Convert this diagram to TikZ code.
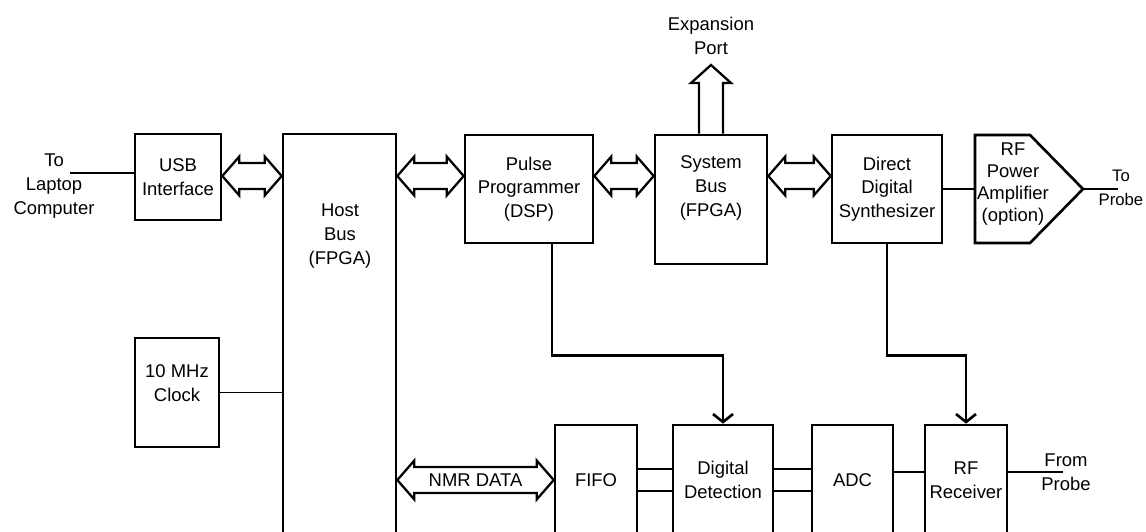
\documentclass[tikz,border=0pt]{standalone}
\usepackage{fontspec}
\setmainfont{Liberation Sans}
\usepackage{tikz}
\usetikzlibrary{arrows.meta, positioning, calc}

\tikzset{
  blk/.style={draw, line width=1.5pt, align=center, inner sep=0pt},
  lbl/.style={align=center, inner sep=0pt},
  %% hollow two-headed bus arrow, drawn from tip to tip
  bus/.style={line width=1.3pt, line join=miter, to path={
      let \p1=(\tikztostart), \p2=(\tikztotarget) in
      (\x1,\y1) -- (\x1+0.34cm,\y1+0.39cm) -- (\x1+0.34cm,\y1+0.26cm)
      -- (\x2-0.34cm,\y1+0.26cm) -- (\x2-0.34cm,\y1+0.39cm) -- (\x2,\y1)
      -- (\x2-0.34cm,\y1-0.39cm) -- (\x2-0.34cm,\y1-0.26cm)
      -- (\x1+0.34cm,\y1-0.26cm) -- (\x1+0.34cm,\y1-0.39cm) -- cycle}},
  %% hollow one-headed arrow going up
  portarrow/.style={line width=1.3pt, line join=miter, to path={
      let \p1=(\tikztostart), \p2=(\tikztotarget) in
      (\x1-0.24cm,\y1) -- (\x1-0.24cm,\y2-0.36cm) -- (\x1-0.40cm,\y2-0.36cm)
      -- (\x1,\y2) -- (\x1+0.40cm,\y2-0.36cm) -- (\x1+0.24cm,\y2-0.36cm)
      -- (\x1+0.24cm,\y1)}},
  wire/.style={line width=1.1pt},
  link/.style={line width=1.5pt},
  feed/.style={line width=1.5pt, -{Straight Barb[length=1.6mm,width=4mm]}},
}

\begin{document}
\begin{tikzpicture}[x=0.02cm, y=-0.02cm, font=\fontsize{10.5}{13.5}\selectfont]
  \useasboundingbox (0,0) rectangle (1146,531);
  \clip (0,0) rectangle (1146,531);

  %% Upper row
  \node[blk, minimum width=1.72cm, minimum height=1.72cm] (usb) at (178,177) {USB\\Interface};
  \node[blk, minimum width=2.26cm, minimum height=8.52cm] (host) at (339.5,347) {};
  \node[lbl] (hostlbl) at (340,236) {Host\\Bus\\(FPGA)};
  \node[blk, minimum width=2.56cm, minimum height=2.16cm] (pulse) at (529,189) {Pulse\\Programmer\\(DSP)};
  \node[blk, minimum width=2.24cm, minimum height=2.58cm] (sys) at (711,199.5) {};
  \node[lbl] (syslbl) at (711,188) {System\\Bus\\(FPGA)};
  \node[blk, minimum width=2.2cm, minimum height=2.16cm] (dds) at (887,189) {Direct\\Digital\\Synthesizer};

  %% RF power amplifier
  \coordinate (ampin) at (975,189);
  \coordinate (ampout) at (1083,189);
  \draw[line width=1.5pt, line join=miter] (975,135) -- (1030,135) -- (ampout) -- (1030,243) -- (975,243) -- cycle;
  \node[lbl, font=\fontsize{10.5}{12.5}\selectfont] (amp) at (1013,184) {RF\\Power\\Amplifier\\(option)};

  %% Clock
  \node[blk, minimum width=1.68cm, minimum height=2.18cm] (clock) at (177,392.5) {};
  \node[lbl] (clocklbl) at (177,383) {10 MHz\\Clock};

  %% Lower row
  \node[blk, minimum width=1.64cm, minimum height=2.2cm] (fifo) at (596,480) {FIFO};
  \node[blk, minimum width=2cm, minimum height=2.2cm] (dd) at (723,480) {Digital\\Detection};
  \node[blk, minimum width=1.62cm, minimum height=2.2cm] (adc) at (852.5,480) {ADC};
  \node[blk, minimum width=1.64cm, minimum height=2.2cm] (rfrx) at (966,480) {RF\\Receiver};

  %% Outside world
  \node[lbl] (laptop) at (54,186) {To\\Laptop\\Computer};
  \coordinate (lap) at (70,173);
  \draw[wire] (lap) -- (lap -| usb.west);
  \node[lbl, font=\fontsize{9.5}{13.5}\selectfont] (toprobe) at (1121,188) {To\\Probe};
  \coordinate (probeout) at (1118,189);
  \draw[wire] (ampout) -- (probeout);
  \node[lbl] (fromprobe) at (1066,472) {From\\Probe};
  \coordinate (probein) at (1063,472);
  \draw[wire] (probein) -- (probein -| rfrx.east);

  %% Bus arrows
  \coordinate (busy) at (0,176);
  \draw[bus] (usb.east |- busy) to (host.west |- busy);
  \draw[bus] (host.east |- busy) to (pulse.west |- busy);
  \draw[bus] (pulse.east |- busy) to (sys.west |- busy);
  \draw[bus] (sys.east |- busy) to (dds.west |- busy);
  \draw[bus] (host.east |- fifo.west) to (fifo.west);
  \node (nmr) at ($(host.east |- fifo.west)!.5!(fifo.west)$) {NMR DATA};
  \coordinate (exptip) at (711,65);
  \draw[portarrow] (sys.north) to (exptip);
  \node[lbl, above=0.2cm of exptip] (explbl) {Expansion\\Port};

  %% Signal lines
  \draw[wire] (clock.east) -- (clock.east -| host.west);
  \draw[wire] (dds.east) -- (ampin);
  \draw[link] ([yshift=0.22cm]fifo.east) -- ([yshift=0.22cm]fifo.east -| dd.west);
  \draw[link] ([yshift=-0.22cm]fifo.east) -- ([yshift=-0.22cm]fifo.east -| dd.west);
  \draw[link] ([yshift=0.22cm]dd.east) -- ([yshift=0.22cm]dd.east -| adc.west);
  \draw[link] ([yshift=-0.22cm]dd.east) -- ([yshift=-0.22cm]dd.east -| adc.west);
  \draw[link] ([yshift=0.16cm]adc.east) -- ([yshift=0.16cm]adc.east -| rfrx.west);
  \draw[feed] ([xshift=0.46cm]pulse.south) -- ++(0,111) -| (dd.north);
  \draw[feed] (dds.south) -- ++(0,111) -| (rfrx.north);
\end{tikzpicture}
\end{document}
